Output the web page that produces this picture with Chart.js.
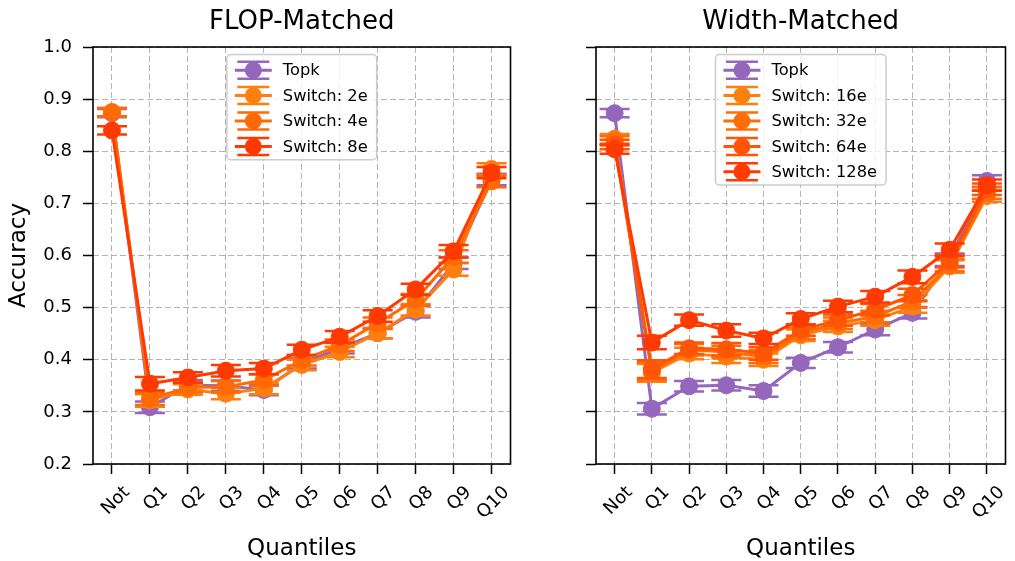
<!DOCTYPE html>
<html><head><meta charset="utf-8">
<script src="https://cdn.jsdelivr.net/npm/chart.js@4.4.1/dist/chart.umd.min.js"></script>
<style>
html,body{margin:0;padding:0;background:#fff;width:1015px;height:561px;overflow:hidden;}
#c1{position:absolute;left:0;top:0;}
#c2{position:absolute;left:560px;top:0;}
</style></head><body>
<canvas id="c1" width="520" height="561"></canvas>
<canvas id="c2" width="455" height="561"></canvas>
<script>
const categories = ['Not','Q1','Q2','Q3','Q4','Q5','Q6','Q7','Q8','Q9','Q10'];
const yTickValues = [0.2,0.3,0.4,0.5,0.6,0.7,0.8,0.9,1.0];

// FLOP-Matched panel
const flopTopk      = [0.873,0.309,0.351,0.350,0.342,0.393,0.422,0.451,0.492,0.585,0.746];
const flopTopkErr   = [0.008,0.011,0.010,0.010,0.010,0.010,0.010,0.010,0.011,0.011,0.011];
const flopSwitch2e  = [0.875,0.322,0.343,0.335,0.345,0.390,0.415,0.451,0.496,0.573,0.766];
const flopSwitch2eErr = [0.008,0.012,0.010,0.011,0.011,0.010,0.010,0.010,0.011,0.012,0.011];
const flopSwitch4e  = [0.875,0.325,0.347,0.348,0.361,0.399,0.428,0.470,0.515,0.598,0.742];
const flopSwitch4eErr = [0.008,0.012,0.010,0.011,0.011,0.010,0.011,0.011,0.011,0.012,0.011];
const flopSwitch8e  = [0.840,0.354,0.366,0.379,0.383,0.419,0.444,0.484,0.535,0.608,0.759];
const flopSwitch8eErr = [0.008,0.013,0.010,0.011,0.011,0.010,0.011,0.011,0.011,0.012,0.011];

// Width-Matched panel
const widthTopk       = [0.873,0.306,0.349,0.351,0.340,0.394,0.424,0.458,0.490,0.592,0.743];
const widthTopkErr    = [0.008,0.011,0.010,0.010,0.011,0.010,0.010,0.011,0.011,0.012,0.011];
const widthSwitch16e  = [0.824,0.375,0.412,0.406,0.400,0.447,0.464,0.476,0.502,0.579,0.714];
const widthSwitch16eErr = [0.009,0.017,0.011,0.012,0.012,0.011,0.011,0.011,0.012,0.012,0.011];
const widthSwitch32e  = [0.820,0.378,0.419,0.415,0.406,0.451,0.470,0.483,0.512,0.582,0.720];
const widthSwitch32eErr = [0.009,0.017,0.011,0.012,0.012,0.011,0.011,0.011,0.012,0.012,0.011];
const widthSwitch64e  = [0.813,0.382,0.422,0.420,0.412,0.457,0.476,0.496,0.524,0.589,0.727];
const widthSwitch64eErr = [0.009,0.017,0.011,0.012,0.012,0.011,0.011,0.011,0.012,0.012,0.011];
const widthSwitch128e = [0.804,0.433,0.476,0.456,0.441,0.478,0.502,0.521,0.559,0.611,0.735];
const widthSwitch128eErr = [0.009,0.013,0.011,0.012,0.011,0.011,0.011,0.011,0.012,0.012,0.011];

const FONT = '"DejaVu Sans", "Liberation Sans", sans-serif';

const errorBarPlugin = {
  id: 'errbars',
  beforeDatasetDraw(chart, args) {
    const ds = chart.data.datasets[args.index];
    const ys = chart.scales.y;
    const ctx = chart.ctx;
    ctx.save();
    ctx.strokeStyle = ds.borderColor;
    ctx.lineWidth = 2.5;
    args.meta.data.forEach((pt, i) => {
      const v = ds.data[i], e = ds.errs[i];
      const x = pt.x, y1 = ys.getPixelForValue(v - e), y2 = ys.getPixelForValue(v + e);
      ctx.beginPath();
      ctx.moveTo(x, y1); ctx.lineTo(x, y2);
      ctx.moveTo(x - 15, y1); ctx.lineTo(x + 15, y1);
      ctx.moveTo(x - 15, y2); ctx.lineTo(x + 15, y2);
      ctx.stroke();
    });
    ctx.restore();
  }
};

const framePlugin = {
  id: 'frameTitle',
  afterDatasetsDraw(chart, args, opts) {
    const {left, top, right, bottom} = chart.chartArea;
    const ctx = chart.ctx;
    ctx.save();
    ctx.strokeStyle = '#000';
    ctx.lineWidth = 1.6;
    ctx.strokeRect(left, top, right - left, bottom - top);
    ctx.fillStyle = '#000';
    ctx.font = '26px ' + FONT;
    ctx.textAlign = 'center';
    ctx.textBaseline = 'alphabetic';
    ctx.fillText(opts.title, (left + right) / 2, 29);
    ctx.restore();
  }
};

const legendPlugin = {
  id: 'mplLegend',
  afterDraw(chart, args, opts) {
    const ctx = chart.ctx;
    const ca = chart.chartArea;
    const items = chart.data.datasets.map(d => ({label: d.label, color: d.borderColor}));
    ctx.save();
    ctx.font = '16.3px ' + FONT;
    const maxW = Math.max(...items.map(it => ctx.measureText(it.label).width));
    const padL = 8, handleLen = 37, gap = 11, padR = 9, rowH = 25.4, padT = 15.7, padB = 13.3;
    const w = padL + handleLen + gap + maxW + padR;
    const h = padT + (items.length - 1) * rowH + padB;
    const x0 = (ca.left + ca.right) / 2 - w / 2;
    const y0 = ca.top + 7.5;
    ctx.beginPath();
    ctx.roundRect(x0, y0, w, h, 4);
    ctx.fillStyle = 'rgba(255,255,255,0.8)';
    ctx.fill();
    ctx.strokeStyle = '#cccccc';
    ctx.lineWidth = 1.5;
    ctx.stroke();
    items.forEach((it, i) => {
      const cy = y0 + padT + i * rowH;
      const hx = x0 + padL, cx = hx + handleLen / 2;
      ctx.strokeStyle = it.color;
      ctx.fillStyle = it.color;
      ctx.lineWidth = 3;
      ctx.beginPath(); ctx.moveTo(hx, cy); ctx.lineTo(hx + handleLen, cy); ctx.stroke();
      ctx.lineWidth = 2.5;
      ctx.beginPath();
      ctx.moveTo(cx, cy - 8.5); ctx.lineTo(cx, cy + 8.5);
      ctx.moveTo(cx - 16, cy - 8.5); ctx.lineTo(cx + 16, cy - 8.5);
      ctx.moveTo(cx - 16, cy + 8.5); ctx.lineTo(cx + 16, cy + 8.5);
      ctx.stroke();
      ctx.beginPath(); ctx.arc(cx, cy, 8.5, 0, Math.PI * 2); ctx.fill();
      ctx.fillStyle = '#000';
      ctx.textAlign = 'left';
      ctx.textBaseline = 'middle';
      ctx.fillText(it.label, hx + handleLen + gap, cy + 1);
    });
    ctx.restore();
  }
};

function makeDataset(label, values, errs, color, idx, n) {
  return {
    label, data: values, errs,
    borderColor: color, backgroundColor: color,
    pointBackgroundColor: color, pointBorderColor: color,
    borderWidth: 3, pointRadius: 8.5, pointBorderWidth: 1, pointHoverRadius: 8.5,
    tension: 0, fill: false, order: n - idx
  };
}

function makeChart(canvasId, datasets, title, yAxisWidth, showYLabels, padRight) {
  return new Chart(document.getElementById(canvasId), {
    type: 'line',
    data: {labels: categories, datasets},
    plugins: [errorBarPlugin, framePlugin, legendPlugin],
    options: {
      responsive: false,
      devicePixelRatio: 1,
      animation: false,
      layout: {padding: {left: 0, top: 47, right: padRight, bottom: 0}},
      plugins: {
        legend: {display: false},
        tooltip: {enabled: false},
        title: {display: false},
        frameTitle: {title},
      },
      scales: {
        x: {
          type: 'category',
          offset: true,
          grid: {display: true, color: '#b4b4b4', lineWidth: 1, tickColor: '#000', tickWidth: 1.5, tickLength: 10, drawTicks: true},
          border: {display: false, dash: [6, 3]},
          ticks: {color: '#000', font: {family: FONT, size: 18}, minRotation: 45, maxRotation: 45,
                  autoSkip: false, padding: 8, labelOffset: 15},
          title: {display: true, text: 'Quantiles', color: '#000', font: {family: FONT, size: 23}, padding: {top: 0, bottom: -2}},
          afterFit(scale) { scale.height = 97; }
        },
        y: {
          min: 0.2, max: 1.0,
          afterBuildTicks(scale) { scale.ticks = yTickValues.map(v => ({value: v})); },
          grid: {display: true, color: '#b4b4b4', lineWidth: 1, tickColor: '#000', tickWidth: 1.5, tickLength: 10, drawTicks: true},
          border: {display: false, dash: [6, 3]},
          ticks: {color: '#000', font: {family: FONT, size: 18}, padding: 11,
                  callback: (v) => showYLabels ? Number(v).toFixed(1) : ''},
          title: {display: showYLabels, text: 'Accuracy', color: '#000', font: {family: FONT, size: 23}, padding: {top: 5, bottom: 0}},
          afterFit(scale) { scale.width = yAxisWidth; }
        }
      }
    }
  });
}

const PURPLE = '#9467bd';
const flopSets = [
  makeDataset('Topk', flopTopk, flopTopkErr, PURPLE, 0, 4),
  makeDataset('Switch: 2e', flopSwitch2e, flopSwitch2eErr, '#ff7f0e', 1, 4),
  makeDataset('Switch: 4e', flopSwitch4e, flopSwitch4eErr, '#ff6a05', 2, 4),
  makeDataset('Switch: 8e', flopSwitch8e, flopSwitch8eErr, '#ff3a00', 3, 4),
];
const widthSets = [
  makeDataset('Topk', widthTopk, widthTopkErr, PURPLE, 0, 5),
  makeDataset('Switch: 16e', widthSwitch16e, widthSwitch16eErr, '#ff7f0e', 1, 5),
  makeDataset('Switch: 32e', widthSwitch32e, widthSwitch32eErr, '#ff6d08', 2, 5),
  makeDataset('Switch: 64e', widthSwitch64e, widthSwitch64eErr, '#ff5505', 3, 5),
  makeDataset('Switch: 128e', widthSwitch128e, widthSwitch128eErr, '#ff3a00', 4, 5),
];

makeChart('c1', flopSets, 'FLOP-Matched', 93, true, 7);
makeChart('c2', widthSets, 'Width-Matched', 36, false, 1);
</script>
</body></html>
